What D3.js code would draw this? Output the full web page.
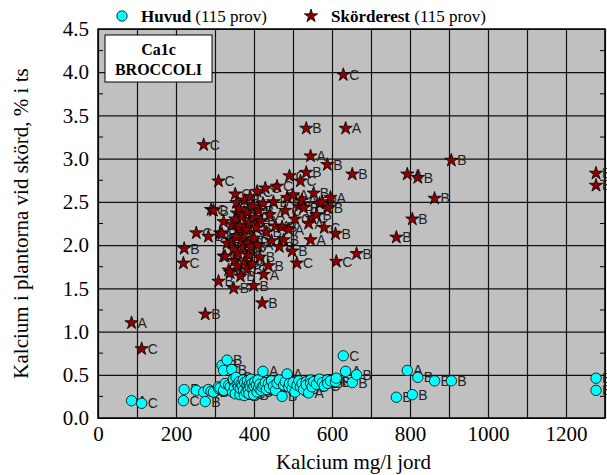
<!DOCTYPE html>
<html lang="sv">
<head>
  <meta charset="UTF-8">
  <title>Ca1c Broccoli</title>
  <script src="https://d3js.org/d3.v7.min.js"></script>
  <style>
    body { margin: 0; background: #fff; }
    svg { display: block; }
    .serif { font-family: "Liberation Serif", "Times New Roman", serif; fill: #000; }
    .tick text { font-family: "Liberation Serif", "Times New Roman", serif; font-size: 21px; fill: #000; }
    .pt-label { font-family: "Liberation Sans", Arial, sans-serif; font-size: 14px; fill: #222; }
  </style>
</head>
<body>
<script>
  // Ca i jord (mg/l), Ca i huvud och skörderest (% i ts), försöksplats
  const soilCa = [86,112,219,221,252,271,275,283,290,296,309,309,313,318,322,322,326,331,335,339,
    343,348,352,355,356,360,345,347,350,352,354,357,360,362,364,365,367,370,372,373,
    375,376,380,382,383,385,387,388,390,392,395,397,399,400,402,406,408,410,412,415,
    418,421,423,425,429,432,437,440,445,450,455,459,465,472,476,480,485,489,491,498,
    500,505,510,515,519,523,527,534,534,540,545,545,549,553,560,568,575,580,588,589,
    596,609,611,629,635,652,663,765,793,806,820,863,906,1277,1277];
  const huvudCa = [0.20,0.17,0.20,0.33,0.32,0.30,0.19,0.33,0.31,0.30,0.34,0.36,0.35,0.61,0.32,0.55,0.40,0.67,0.38,0.36,
    0.56,0.42,0.40,0.37,0.33,0.44,0.30,0.45,0.35,0.28,0.47,0.39,0.36,0.42,0.27,0.34,0.40,0.37,0.44,0.32,
    0.26,0.41,0.30,0.38,0.43,0.33,0.28,0.39,0.36,0.45,0.40,0.34,0.27,0.37,0.42,0.38,0.30,0.44,0.35,0.39,
    0.32,0.36,0.54,0.38,0.41,0.33,0.40,0.35,0.43,0.37,0.32,0.40,0.44,0.25,0.38,0.42,0.51,0.36,0.40,0.34,
    0.41,0.30,0.38,0.43,0.36,0.40,0.33,0.42,0.38,0.29,0.44,0.40,0.36,0.42,0.39,0.45,0.41,0.37,0.44,0.40,
    0.43,0.42,0.46,0.72,0.54,0.41,0.50,0.24,0.55,0.27,0.47,0.43,0.43,0.46,0.32];
  const skordCa = [1.10,0.80,1.79,1.96,2.14,3.16,1.20,2.10,2.41,2.40,2.74,1.58,2.14,2.13,2.27,1.87,1.87,2.02,1.71,1.68,
    2.24,1.50,2.59,2.49,2.37,2.18,2.05,1.95,1.82,2.30,2.10,1.76,1.90,2.42,2.22,1.64,2.06,2.33,1.97,2.12,
    1.80,2.52,2.18,1.72,2.38,2.02,1.88,2.26,2.56,1.98,1.78,2.45,1.53,2.08,2.32,2.20,2.62,2.00,2.40,1.86,
    2.28,1.33,2.48,1.66,2.66,2.15,1.76,2.35,2.05,2.50,2.22,2.68,1.98,2.21,2.06,2.40,2.55,2.18,2.80,1.93,
    2.58,2.30,1.79,2.45,2.74,2.52,2.43,2.84,3.35,2.25,3.03,2.06,2.31,2.60,2.35,2.48,2.50,2.20,2.93,2.43,
    2.55,2.13,1.81,3.97,3.35,2.82,1.90,2.09,2.82,2.30,2.78,2.54,2.98,2.83,2.69];
  const sites = ["A","C","C","B","C","C","B","B","C","B","C","B","C","B","B","C","B","B","B","C",
    "B","B","C","B","B","A","B","B","A","B","C","B","B","C","B","B","A","B","B","C",
    "B","B","A","B","B","B","C","B","C","B","A","B","B","B","C","B","C","A","B","B",
    "B","B","A","A","C","B","B","A","B","B","A","C","B","B","B","C","A","A","C","B",
    "A","C","C","B","C","A","B","B","B","A","A","A","C","B","B","B","B","C","B","B",
    "A","B","C","C","A","B","B","B","A","B","B","B","B","B","B"];

  const xTicks = d3.range(0, 1301, 100);
  const yTicks = d3.range(0, 4.51, 0.5);
  const yMinor = d3.range(0.25, 4.5, 0.5);

  const W = 607, H = 475;
  const m = { left: 98, right: 2, top: 29, bottom: 57 };
  const pw = W - m.left - m.right, ph = H - m.top - m.bottom;

  const svg = d3.select("body").append("svg").attr("width", W).attr("height", H);

  const x = d3.scaleLinear().domain([0, 1300]).range([m.left, m.left + pw]);
  const y = d3.scaleLinear().domain([0, 4.5]).range([m.top + ph, m.top]);

  // plot background
  svg.append("rect")
    .attr("x", m.left).attr("y", m.top).attr("width", pw).attr("height", ph)
    .attr("fill", "#c0c0c0");

  // grid + axes
  const gx = svg.append("g")
    .attr("transform", `translate(0,${m.top + ph})`)
    .call(d3.axisBottom(x).tickValues(xTicks).tickSize(-ph).tickSizeOuter(0)
      .tickFormat(d => (d % 200 === 0 && d < 1300) ? d : ""));
  gx.selectAll(".tick line").attr("stroke", "#111").attr("stroke-width", 1.2);
  gx.selectAll(".tick text").attr("dy", "0.95em");
  gx.select(".domain").remove();

  const gy = svg.append("g")
    .attr("transform", `translate(${m.left},0)`)
    .call(d3.axisLeft(y).tickValues(yTicks).tickSize(-pw).tickSizeOuter(0)
      .tickFormat(d3.format(".1f")));
  gy.selectAll(".tick line").attr("stroke", "#111").attr("stroke-width", 1.2);
  gy.selectAll(".tick text").attr("x", -9);
  gy.select(".domain").remove();

  // minor ticks, inward on both sides
  svg.append("g").selectAll("line")
    .data(yMinor.flatMap(v => [[m.left, v, 5], [m.left + pw, v, -5]]))
    .join("line")
    .attr("x1", d => d[0]).attr("x2", d => d[0] + d[2])
    .attr("y1", d => y(d[1])).attr("y2", d => y(d[1]))
    .attr("stroke", "#000");

  // frame
  svg.append("rect")
    .attr("x", m.left).attr("y", m.top).attr("width", pw).attr("height", ph)
    .attr("fill", "none").attr("stroke", "#000").attr("stroke-width", 1.5);

  const idx = d3.range(soilCa.length);
  const star = d3.symbol().type(d3.symbolStar).size(55);

  // Huvud
  const gh = svg.append("g");
  idx.forEach(i => {
    gh.append("circle")
      .attr("cx", x(soilCa[i])).attr("cy", y(huvudCa[i])).attr("r", 5.2)
      .attr("fill", "#00ffff").attr("stroke", "#000").attr("stroke-width", 0.8);
    gh.append("text").attr("class", "pt-label")
      .attr("x", x(soilCa[i]) + 6).attr("y", y(huvudCa[i]) + 5)
      .text(sites[i]);
  });

  // Skörderest
  const gs = svg.append("g");
  idx.forEach(i => {
    gs.append("path")
      .attr("d", star)
      .attr("transform", `translate(${x(soilCa[i])},${y(skordCa[i])})`)
      .attr("fill", "#8b0000").attr("stroke", "#000").attr("stroke-width", 0.8);
    gs.append("text").attr("class", "pt-label")
      .attr("x", x(soilCa[i]) + 6).attr("y", y(skordCa[i]) + 5)
      .text(sites[i]);
  });

  // label box
  svg.append("rect")
    .attr("x", 105).attr("y", 35).attr("width", 107).attr("height", 47)
    .attr("fill", "#fff").attr("stroke", "#000").attr("stroke-width", 1);
  svg.append("text").attr("class", "serif")
    .attr("x", 158.5).attr("y", 55).attr("text-anchor", "middle")
    .attr("font-size", 16).attr("font-weight", "bold").text("Ca1c");
  svg.append("text").attr("class", "serif")
    .attr("x", 158.5).attr("y", 75).attr("text-anchor", "middle")
    .attr("font-size", 16).attr("font-weight", "bold").text("BROCCOLI");

  // legend
  const leg = svg.append("g");
  leg.append("circle").attr("cx", 122).attr("cy", 16).attr("r", 5.2)
    .attr("fill", "#00ffff").attr("stroke", "#000").attr("stroke-width", 0.8);
  const t1 = leg.append("text").attr("class", "serif").attr("x", 141).attr("y", 22).attr("font-size", 17);
  t1.append("tspan").attr("font-weight", "bold").text("Huvud");
  t1.append("tspan").text(" (115 prov)");
  leg.append("path").attr("d", star).attr("transform", "translate(311,16)")
    .attr("fill", "#8b0000").attr("stroke", "#000").attr("stroke-width", 0.8);
  const t2 = leg.append("text").attr("class", "serif").attr("x", 331).attr("y", 22).attr("font-size", 17);
  t2.append("tspan").attr("font-weight", "bold").text("Skörderest");
  t2.append("tspan").text(" (115 prov)");

  // axis titles
  svg.append("text").attr("class", "serif")
    .attr("x", m.left + pw / 2 + 2).attr("y", 469).attr("text-anchor", "middle")
    .attr("font-size", 21).text("Kalcium mg/l jord");
  svg.append("text").attr("class", "serif")
    .attr("transform", `translate(28,${m.top + ph / 2}) rotate(-90)`)
    .attr("text-anchor", "middle")
    .attr("font-size", 21).text("Kalcium i plantorna vid skörd, % i ts");
</script>
</body>
</html>
